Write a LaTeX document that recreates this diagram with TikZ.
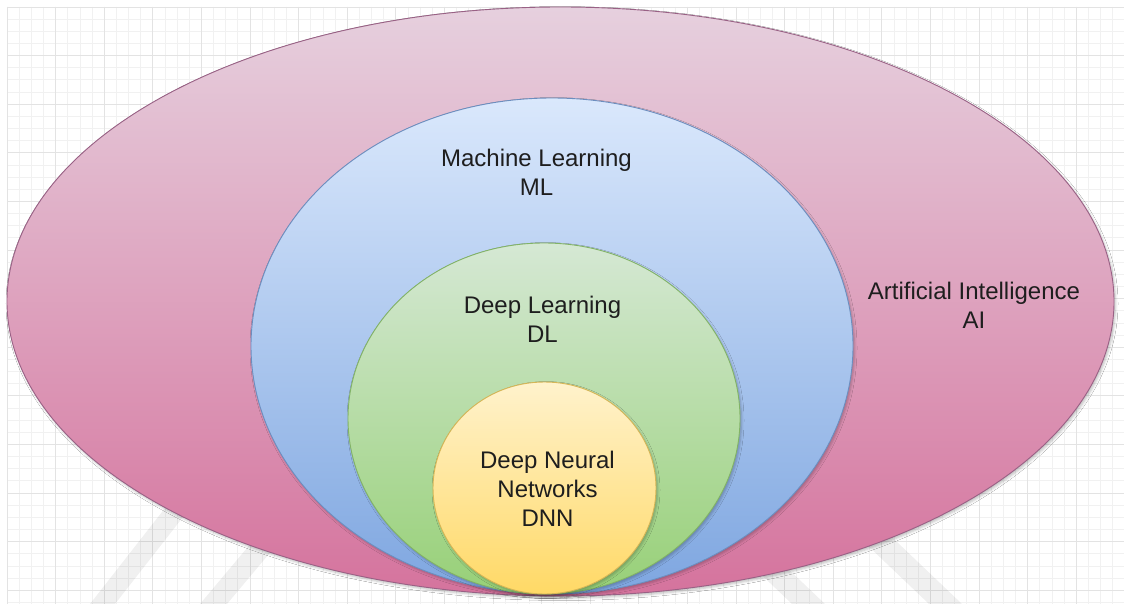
\documentclass[tikz,border=0pt]{standalone}
\usepackage{fontspec}
\setmainfont{Liberation Sans}
\usetikzlibrary{shapes.geometric,shadows.blur}
\definecolor{aiTop}{HTML}{E6D0DE}\definecolor{aiBot}{HTML}{D5739D}\definecolor{aiLine}{HTML}{996185}
\definecolor{mlTop}{HTML}{DAE8FC}\definecolor{mlBot}{HTML}{7EA6E0}\definecolor{mlLine}{HTML}{6C8EBF}
\definecolor{dlTop}{HTML}{D5E8D4}\definecolor{dlBot}{HTML}{97D077}\definecolor{dlLine}{HTML}{82B366}
\definecolor{dnTop}{HTML}{FFF2CC}\definecolor{dnBot}{HTML}{FFD966}\definecolor{dnLine}{HTML}{D6B656}
\definecolor{gridMinor}{HTML}{F1F1F1}\definecolor{gridMajor}{HTML}{E3E3E3}
\definecolor{txt}{HTML}{1E1E1E}
\tikzset{
  blob/.style={ellipse, inner sep=0pt, line width=0.9pt,
    blur shadow={shadow xshift=1.5pt, shadow yshift=-2pt, shadow blur radius=2.5pt, shadow opacity=25}},
  lbl/.style={align=center, inner sep=0pt, text=txt,
    font=\fontsize{24}{29}\selectfont},
  stripe/.style={fill=black, opacity=0.06},
}
\begin{document}
\begin{tikzpicture}[x=1pt,y=-1pt]
\useasboundingbox (0,0) rectangle (1124,604);
\fill[white] (0,0) rectangle (1124,604);
% grid
\foreach \i in {0,...,92} \draw[gridMinor, line width=0.8pt] (7+\i*12.15,7) -- (7+\i*12.15,604);
\foreach \j in {0,...,49} \draw[gridMinor, line width=0.8pt] (7,7+\j*12.15) -- (1124,7+\j*12.15);
\foreach \i in {0,...,23} \draw[gridMajor, line width=0.8pt] (7+\i*48.6,7) -- (7+\i*48.6,604);
\foreach \j in {0,...,12} \draw[gridMajor, line width=0.8pt] (7,7+\j*48.6) -- (1124,7+\j*48.6);
% watermark stripes
\fill[stripe] (90,604) -- (115,604) -- (212,480) -- (187,480) -- cycle;
\fill[stripe] (200,604) -- (227,604) -- (331,480) -- (304,480) -- cycle;
\fill[stripe] (929,604) -- (962,604) -- (832,480) -- (799,480) -- cycle;
\fill[stripe] (792,604) -- (825,604) -- (695,480) -- (662,480) -- cycle;
% ellipses
\node[blob, draw=aiLine, top color=aiTop, bottom color=aiBot,
      minimum width=1107pt, minimum height=589pt] (ai) at (560.5,301.5) {};
\node[blob, draw=mlLine, top color=mlTop, bottom color=mlBot,
      minimum width=602pt, minimum height=496pt] (ml) at (552,346) {};
\node[blob, draw=dlLine, top color=dlTop, bottom color=dlBot,
      minimum width=392pt, minimum height=351pt] (dl) at (544,418.5) {};
\node[blob, draw=dnLine, top color=dnTop, bottom color=dnBot,
      minimum width=223pt, minimum height=212pt] (dnn) at (544.5,488) {};
% labels
\node[lbl] (aiText) at (974,305.4) {Artificial Intelligence\\AI};
\node[lbl] (mlText) at (536.5,172.4) {Machine Learning\\ML};
\node[lbl] (dlText) at (542.5,318.9) {Deep Learning\\DL};
\node[lbl] (dnnText) at (547.5,488.9) {Deep Neural\\Networks\\DNN};
\end{tikzpicture}
\end{document}
